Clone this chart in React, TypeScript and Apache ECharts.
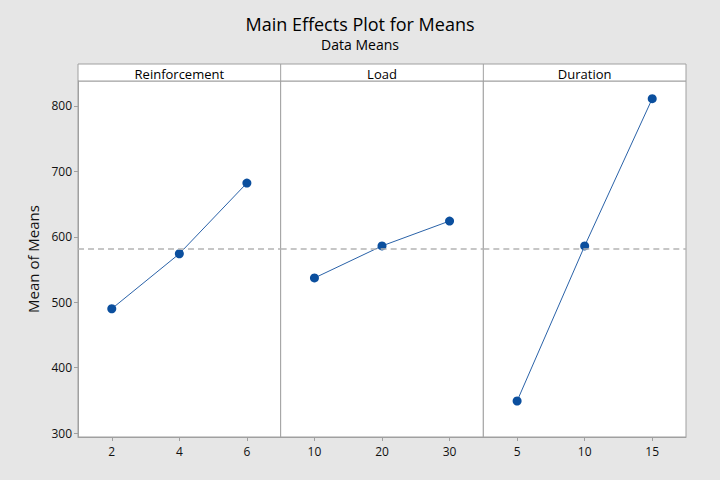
import React, { useEffect, useRef } from "react";
import * as echarts from "echarts";

const TITLE = "Main Effects Plot for Means";
const SUBTITLE = "Data Means";
const Y_NAME = "Mean of Means";

const factorNames = ["Reinforcement", "Load", "Duration"];
const reinforcementLevels = ["2", "4", "6"];
const reinforcementMeans = [490, 574, 682];
const loadLevels = ["10", "20", "30"];
const loadMeans = [537, 586, 624];
const durationLevels = ["5", "10", "15"];
const durationMeans = [349, 586, 811];
const yTickValues = [300, 400, 500, 600, 700, 800];

const levels = [reinforcementLevels, loadLevels, durationLevels];
const means = [reinforcementMeans, loadMeans, durationMeans];

const Y_MIN = 294;
const Y_MAX = 838;

const FONT = "'Open Sans', 'Noto Sans', sans-serif";

export default function App() {
  const ref = useRef<HTMLDivElement>(null);

  useEffect(() => {
    if (!ref.current) return;
    const chart = echarts.init(ref.current, null, { renderer: "svg" });

    const all = means.flat();
    const grandMean = all.reduce((a, b) => a + b, 0) / all.length;

    const plotLeft = 78;
    const plotRight = 686;
    const plotTop = 81;
    const plotBottom = 437;
    const headerTop = 64;
    const pw = (plotRight - plotLeft) / 3;
    const axisGray = "#a0a0a0";

    const grids = [0, 1, 2].map((i) => ({
      left: plotLeft + i * pw,
      top: plotTop,
      width: pw,
      height: plotBottom - plotTop,
      show: true,
      backgroundColor: "#ffffff",
      borderColor: axisGray,
      borderWidth: 1,
    }));

    const xAxes = [0, 1, 2].map((i) => ({
      type: "category",
      gridIndex: i,
      data: levels[i],
      boundaryGap: true,
      axisLine: { show: true, lineStyle: { color: axisGray } },
      axisTick: { show: true, alignWithLabel: true, length: 4, lineStyle: { color: axisGray } },
      axisLabel: { color: "#111", fontSize: 12, fontFamily: FONT, margin: 8 },
      splitLine: { show: false },
    }));

    const yAxes = [0, 1, 2].map((i) => ({
      type: "value",
      gridIndex: i,
      min: Y_MIN,
      max: Y_MAX,
      name: i === 0 ? Y_NAME : "",
      nameLocation: "middle",
      nameGap: 38,
      nameTextStyle: { color: "#111", fontSize: 15, fontFamily: FONT },
      axisLine: { show: i === 0, lineStyle: { color: axisGray } },
      axisTick: {
        show: i === 0,
        length: 4,
        customValues: yTickValues,
        lineStyle: { color: axisGray },
      },
      axisLabel: {
        show: i === 0,
        color: "#111",
        fontSize: 12,
        fontFamily: FONT,
        margin: 6,
        customValues: yTickValues,
      },
      splitLine: { show: false },
    }));

    const series = [0, 1, 2].map((i) => ({
      type: "line",
      xAxisIndex: i,
      yAxisIndex: i,
      data: means[i],
      symbol: "circle",
      symbolSize: 9,
      itemStyle: { color: "#0b4f9e" },
      lineStyle: { color: "#2a62a8", width: 1 },
      markLine: {
        silent: true,
        symbol: "none",
        label: { show: false },
        lineStyle: { color: "#b4b4b4", type: [6, 4], width: 1.5 },
        data: [{ yAxis: grandMean }],
      },
      z: 3,
    }));

    const headerGraphics: any[] = [
      {
        type: "rect",
        shape: { x: plotLeft, y: headerTop, width: plotRight - plotLeft, height: plotTop - headerTop },
        style: { fill: "#ffffff", stroke: axisGray, lineWidth: 1 },
      },
    ];
    [1, 2].forEach((i) => {
      headerGraphics.push({
        type: "line",
        shape: { x1: plotLeft + i * pw, y1: headerTop, x2: plotLeft + i * pw, y2: plotTop },
        style: { stroke: axisGray, lineWidth: 1 },
      });
    });
    factorNames.forEach((name, i) => {
      headerGraphics.push({
        type: "text",
        x: plotLeft + (i + 0.5) * pw,
        y: (headerTop + plotTop) / 2 + 1,
        style: {
          text: name,
          fill: "#000",
          fontSize: 13,
          fontWeight: 500,
          fontFamily: FONT,
          align: "center",
          verticalAlign: "middle",
        },
      });
    });

    chart.setOption({
      animation: false,
      backgroundColor: "#e6e6e6",
      title: {
        text: TITLE,
        subtext: SUBTITLE,
        left: "center",
        top: 10,
        itemGap: 4,
        textStyle: { color: "#000", fontSize: 18, fontWeight: "normal", fontFamily: FONT },
        subtextStyle: { color: "#000", fontSize: 14, fontFamily: FONT },
      },
      grid: grids,
      xAxis: xAxes,
      yAxis: yAxes,
      series,
      graphic: headerGraphics,
    });

    return () => chart.dispose();
  }, []);

  return (
    <div
      ref={ref}
      style={{ position: "fixed", left: 0, top: 0, width: 720, height: 480 }}
    />
  );
}
